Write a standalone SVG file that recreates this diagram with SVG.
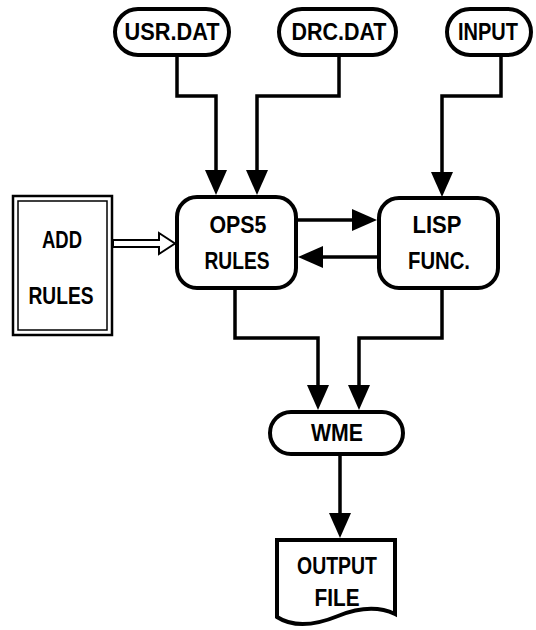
<svg xmlns="http://www.w3.org/2000/svg" width="536" height="630" viewBox="0 0 536 630">
  <style>
    .box { fill: #fff; stroke: #000; stroke-width: 4; }
    .thin { fill: none; stroke: #000; }
    .lbl { font-family: "Liberation Sans", "DejaVu Sans", sans-serif; font-weight: bold; font-size: 23px; fill: #000; text-anchor: middle; }
    .wire { fill: none; stroke: #000; stroke-width: 3.5; stroke-linejoin: miter; }
  </style>
  <defs>
    <marker id="head" markerUnits="userSpaceOnUse" markerWidth="26" markerHeight="24" refX="0" refY="11" orient="auto" overflow="visible">
      <path d="M0,0 L25,11 L0,22 Z" fill="#000"/>
    </marker>
  </defs>
  <rect width="536" height="630" fill="#fff"/>

  <!-- connectors -->
  <g id="connectors">
    <path class="wire" d="M177,55 V96 H216 V170" marker-end="url(#head)"/>
    <path class="wire" d="M339,55 V96 H257 V170" marker-end="url(#head)"/>
    <path class="wire" d="M501,55 V96 H442 V172" marker-end="url(#head)"/>
    <path class="wire" d="M298,220 H352" marker-end="url(#head)"/>
    <path class="wire" d="M377,257 H323" marker-end="url(#head)"/>
    <path class="wire" d="M235,290 V338 H318 V385" marker-end="url(#head)"/>
    <path class="wire" d="M442,290 V338 H359 V385" marker-end="url(#head)"/>
    <path class="wire" d="M340,455 V513" marker-end="url(#head)"/>
    <!-- hollow double-line arrow -->
    <polygon points="113,240 159,240 159,233 175,243.5 159,254 159,247 113,247" fill="#fff" stroke="#000" stroke-width="2" stroke-linejoin="miter"/>
  </g>

  <g id="usr-dat">
    <rect class="box" x="115" y="9" width="114" height="46" rx="23"/>
    <text class="lbl" x="172" y="40" textLength="95" lengthAdjust="spacingAndGlyphs">USR.DAT</text>
  </g>
  <g id="drc-dat">
    <rect class="box" x="279" y="9" width="117" height="46" rx="23"/>
    <text class="lbl" x="339" y="40" textLength="95" lengthAdjust="spacingAndGlyphs">DRC.DAT</text>
  </g>
  <g id="input">
    <rect class="box" x="447" y="9" width="84" height="46" rx="23"/>
    <text class="lbl" x="488" y="40" textLength="60" lengthAdjust="spacingAndGlyphs">INPUT</text>
  </g>

  <g id="add-rules">
    <rect x="13" y="196" width="99" height="139" fill="#fff" stroke="#000" stroke-width="2.5"/>
    <rect x="18" y="201" width="89" height="129" class="thin" stroke-width="1.5"/>
    <text class="lbl" x="62" y="248" textLength="40" lengthAdjust="spacingAndGlyphs">ADD</text>
    <text class="lbl" x="61" y="304" textLength="65" lengthAdjust="spacingAndGlyphs">RULES</text>
  </g>

  <g id="ops5-rules">
    <rect class="box" x="177" y="197" width="119" height="91" rx="20"/>
    <text class="lbl" x="238" y="233" textLength="57" lengthAdjust="spacingAndGlyphs">OPS5</text>
    <text class="lbl" x="237" y="269" textLength="65" lengthAdjust="spacingAndGlyphs">RULES</text>
  </g>

  <g id="lisp-func">
    <rect class="box" x="379" y="198" width="119" height="90" rx="20"/>
    <text class="lbl" x="437" y="233" textLength="49" lengthAdjust="spacingAndGlyphs">LISP</text>
    <text class="lbl" x="439" y="269" textLength="62" lengthAdjust="spacingAndGlyphs">FUNC.</text>
  </g>

  <g id="wme">
    <rect class="box" x="270" y="412" width="133" height="42" rx="21"/>
    <text class="lbl" x="337" y="441" textLength="52" lengthAdjust="spacingAndGlyphs">WME</text>
  </g>

  <g id="output-file">
    <path class="box" d="M277,540 H395 V614 C378,606 358,608 338,616 C316,625 294,628 277,617 Z"/>
    <text class="lbl" x="337" y="574" textLength="80" lengthAdjust="spacingAndGlyphs">OUTPUT</text>
    <text class="lbl" x="337" y="606" textLength="45" lengthAdjust="spacingAndGlyphs">FILE</text>
  </g>
</svg>
